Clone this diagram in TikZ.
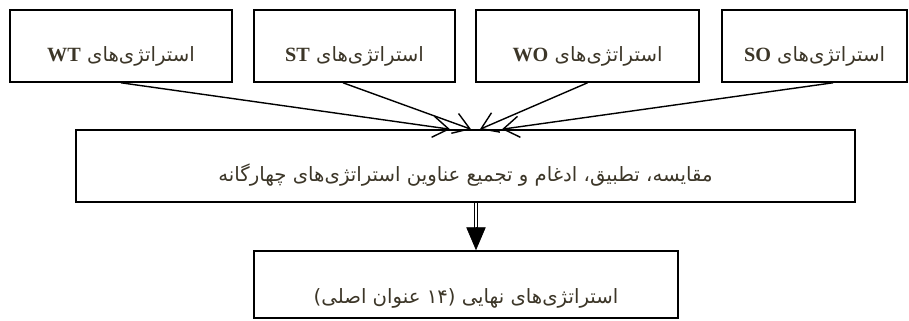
\documentclass[tikz,border=0pt]{standalone}
\usepackage{fontspec}
\setmainfont{Liberation Serif}
\newfontfamily\farsi[Script=Arabic]{DejaVu Sans}
\TeXXeTstate=1
\usetikzlibrary{arrows.meta,positioning}

\definecolor{txtcol}{RGB}{60,54,40}
\newcommand{\fa}[1]{{\farsi\beginR #1\endR}}
\newcommand{\lat}[1]{{\rmfamily\bfseries\fontsize{11.5}{13}\selectfont #1}}

\tikzset{
  box/.style={draw, line width=0.9pt, minimum height=1.44cm, inner sep=0pt,
    text height=0.62cm, text depth=0.02cm,
    text=txtcol, font=\fontsize{11.2}{13}\selectfont},
  feed/.style={line width=0.8pt, -{Straight Barb[length=9pt,width=12pt]}},
}

\begin{document}
\begin{tikzpicture}
\useasboundingbox (0,0) rectangle (18.18,6.4);
% four strategy groups
\node[box, minimum width=4.44cm] (wt) at (2.42,5.48) {\fa{استراتژی‌های \lat{WT}}};
\node[box, minimum width=4.02cm] (st) at (7.09,5.48) {\fa{استراتژی‌های \lat{ST}}};
\node[box, minimum width=4.46cm] (wo) at (11.75,5.48) {\fa{استراتژی‌های \lat{WO}}};
\node[box, minimum width=3.7cm] (so) at (16.29,5.48) {\fa{استراتژی‌های \lat{SO}}};
% merge and final
\node[box, minimum width=15.58cm] (mid) at (9.31,3.08) {\fa{مقایسه، تطبیق، ادغام و تجمیع عناوین استراتژی‌های چهارگانه}};
\node[box, minimum width=8.48cm, minimum height=1.34cm, text height=0.76cm] (fin) at (9.32,0.71) {\fa{استراتژی‌های نهایی (۱۴ عنوان اصلی)}};
\coordinate (inwt) at ([xshift=-0.31cm]mid.north);
\coordinate (inst) at ([xshift=0.11cm]mid.north);
\coordinate (inwo) at ([xshift=0.29cm]mid.north);
\coordinate (inso) at ([xshift=0.73cm]mid.north);
\draw[feed] (wt.south) -- (inwt);
\draw[feed] ([xshift=-0.23cm]st.south) -- (inst);
\draw[feed] (wo.south) -- (inwo);
\draw[feed] ([xshift=0.37cm]so.south) -- (inso);
\coordinate (infin) at ([xshift=0.2cm]fin.north);
\coordinate (outmid) at (infin |- mid.south);
\draw[line width=0.6pt, double, double distance=1.4pt, shorten >=12pt] (outmid) -- (infin);
\draw[-{Triangle[width=11pt,length=13pt]}] ([yshift=13pt]infin) -- (infin);
\end{tikzpicture}
\end{document}
